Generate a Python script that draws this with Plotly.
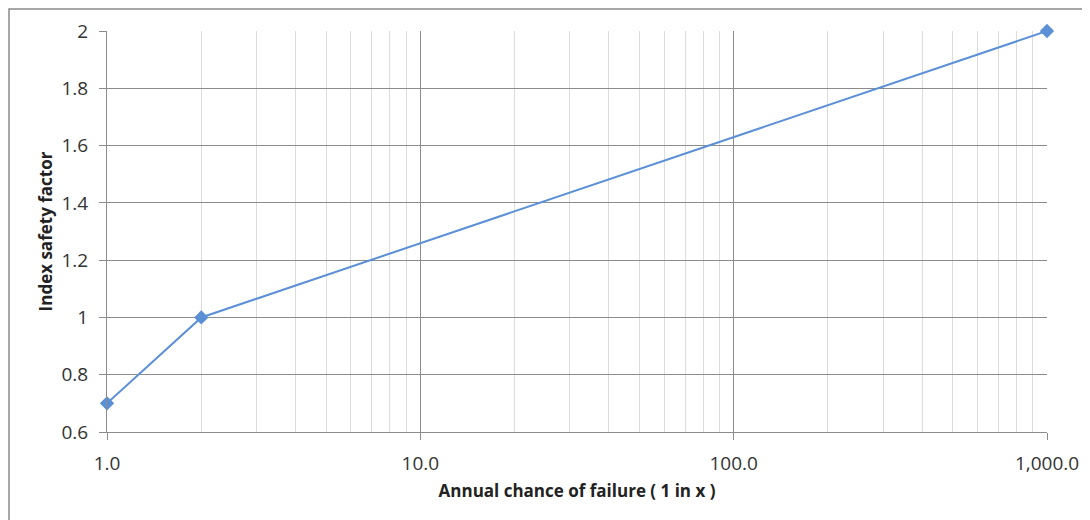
import plotly.graph_objects as go

x_values = [1, 2, 1000]
y_values = [0.7, 1.0, 2.0]
x_tick_vals = [1, 10, 100, 1000]
x_tick_text = ["1.0", "10.0", "100.0", "1,000.0"]
x_minor_vals = [2, 3, 4, 5, 6, 7, 8, 9, 20, 30, 40, 50, 60, 70, 80, 90,
                200, 300, 400, 500, 600, 700, 800, 900]
y_tick_vals = [0.6, 0.8, 1.0, 1.2, 1.4, 1.6, 1.8, 2.0]
y_tick_text = ["0.6", "0.8", "1", "1.2", "1.4", "1.6", "1.8", "2"]

FONT = "Open Sans, Liberation Sans, sans-serif"
OFF = 8  # page body margin
W, H = 1090, 520
L, T = 107 - OFF, 31 - OFF
R, B = W - (1047 - OFF), H - (432 - OFF)
pw, ph = W - L - R, H - T - B

fig = go.Figure()
fig.add_trace(go.Scatter(
    x=x_values, y=y_values, mode="lines+markers",
    line=dict(color="#5b8fd6", width=2),
    marker=dict(symbol="diamond", size=11, color="#5b8fd6"),
    cliponaxis=False, showlegend=False,
))

fig.update_layout(
    width=W, height=H,
    margin=dict(l=L, r=R, t=T, b=B, autoexpand=False),
    paper_bgcolor="white", plot_bgcolor="white",
    font=dict(family=FONT, size=17, color="#333333"),
    xaxis=dict(
        type="log", range=[0, 3], automargin=False,
        tickmode="array", tickvals=x_tick_vals, ticktext=x_tick_text,
        tickfont=dict(size=19, color="#333333"),
        showgrid=True, gridcolor="#8c8c8c", gridwidth=1,
        showline=True, linecolor="#8c8c8c", linewidth=1,
        ticks="outside", ticklen=7, tickcolor="#8c8c8c",
        ticklabelstandoff=7,
        minor=dict(tickmode="array", tickvals=x_minor_vals, showgrid=True,
                   gridcolor="#dcdcdc", gridwidth=1, ticks=""),
        title=dict(text="<b>Annual chance of failure ( 1 in x )</b>",
                   font=dict(size=17, color="#222222"), standoff=10),
        zeroline=False,
    ),
    yaxis=dict(
        range=[0.6, 2.0], automargin=False,
        tickmode="array", tickvals=y_tick_vals, ticktext=y_tick_text,
        tickfont=dict(size=19, color="#333333"),
        showgrid=True, gridcolor="#8c8c8c", gridwidth=1,
        showline=True, linecolor="#8c8c8c", linewidth=1,
        ticks="outside", ticklen=7, tickcolor="#8c8c8c",
        ticklabelstandoff=7,
        title=dict(text="<b>Index safety factor</b>",
                   font=dict(size=17, color="#222222"), standoff=4),
        zeroline=False,
    ),
)

# outer chart border (sits on the figure edge)
fig.add_shape(type="rect", xref="paper", yref="paper",
              x0=(1 - L) / pw, x1=(W + 10 - L) / pw,
              y0=(H - B - (H + 10)) / ph, y1=(H - B - 1) / ph,
              line=dict(color="#8a8a8a", width=1.5), fillcolor="rgba(0,0,0,0)",
              layer="below")

fig.write_html("out.html")
